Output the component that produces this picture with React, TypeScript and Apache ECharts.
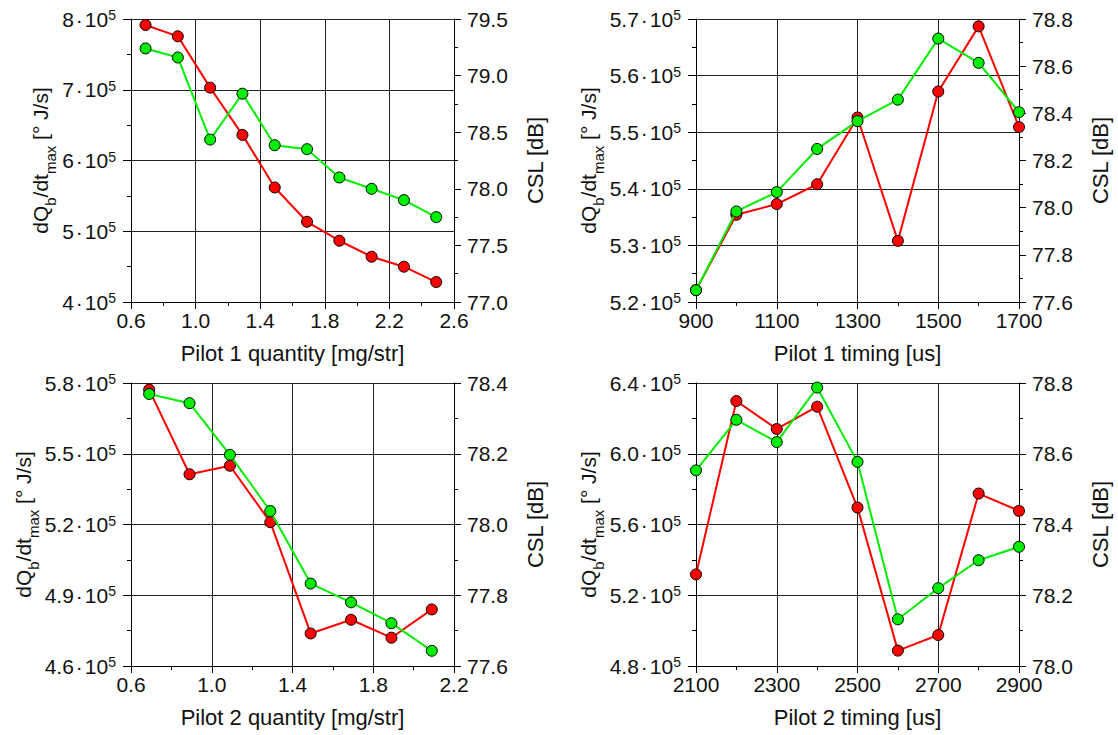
import React, { useEffect, useRef } from 'react';
import * as echarts from 'echarts';

// ---------- Panel 1: Pilot 1 quantity ----------
const p1X = [0.69, 0.89, 1.09, 1.29, 1.49, 1.69, 1.89, 2.09, 2.29, 2.49];
const p1Dq = [791500, 775500, 703000, 636200, 561900, 513400, 486600, 464000, 449900, 428200];
const p1Csl = [79.24, 79.16, 78.435, 78.84, 78.385, 78.35, 78.1, 78.0, 77.9, 77.75];
const p1XTicks = [0.6, 1.0, 1.4, 1.8, 2.2, 2.6];
const p1XMinor = [0.8, 1.2, 1.6, 2.0, 2.4];
const p1LeftTicks = [400000, 500000, 600000, 700000, 800000];
const p1LeftMinor = [450000, 550000, 650000, 750000];
const p1RightTicks = [77.0, 77.5, 78.0, 78.5, 79.0, 79.5];
const p1RightMinor = [77.25, 77.75, 78.25, 78.75, 79.25];

// ---------- Panel 2: Pilot 1 timing ----------
const p2X = [900, 1000, 1100, 1200, 1300, 1400, 1500, 1600, 1700];
const p2Dq = [522100, 535400, 537300, 540800, 552600, 530800, 557200, 568700, 550900];
const p2Csl = [77.65, 77.984, 78.066, 78.249, 78.367, 78.458, 78.717, 78.614, 78.405];
const p2XTicks = [900, 1100, 1300, 1500, 1700];
const p2XMinor = [1000, 1200, 1400, 1600];
const p2LeftTicks = [520000, 530000, 540000, 550000, 560000, 570000];
const p2LeftMinor = [525000, 535000, 545000, 555000, 565000];
const p2RightTicks = [77.6, 77.8, 78.0, 78.2, 78.4, 78.6, 78.8];
const p2RightMinor = [77.7, 77.9, 78.1, 78.3, 78.5, 78.7];

// ---------- Panel 3: Pilot 2 quantity ----------
const p3X = [0.69, 0.89, 1.09, 1.29, 1.49, 1.69, 1.89, 2.09];
const p3Dq = [577200, 541300, 544900, 521000, 473800, 479600, 472000, 484000];
const p3Csl = [78.369, 78.343, 78.197, 78.038, 77.833, 77.78, 77.721, 77.643];
const p3XTicks = [0.6, 1.0, 1.4, 1.8, 2.2];
const p3XMinor = [0.8, 1.2, 1.6, 2.0];
const p3LeftTicks = [460000, 490000, 520000, 550000, 580000];
const p3LeftMinor = [475000, 505000, 535000, 565000];
const p3RightTicks = [77.6, 77.8, 78.0, 78.2, 78.4];
const p3RightMinor = [77.7, 77.9, 78.1, 78.3];

// ---------- Panel 4: Pilot 2 timing ----------
const p4X = [2100, 2200, 2300, 2400, 2500, 2600, 2700, 2800, 2900];
const p4Dq = [531800, 629800, 614000, 626600, 569600, 488700, 497500, 577500, 567700];
const p4Csl = [78.553, 78.696, 78.633, 78.787, 78.577, 78.132, 78.22, 78.299, 78.337];
const p4XTicks = [2100, 2300, 2500, 2700, 2900];
const p4XMinor = [2200, 2400, 2600, 2800];
const p4LeftTicks = [480000, 520000, 560000, 600000, 640000];
const p4LeftMinor = [500000, 540000, 580000, 620000];
const p4RightTicks = [78.0, 78.2, 78.4, 78.6, 78.8];
const p4RightMinor = [78.1, 78.3, 78.5, 78.7];

const xNames = ['Pilot 1 quantity [mg/str]', 'Pilot 1 timing [us]', 'Pilot 2 quantity [mg/str]', 'Pilot 2 timing [us]'];

const FONT = '"Liberation Sans", Arial, Helvetica, sans-serif';
const TXT = '#111';
const RED = '#ff0000';
const GREEN = '#00ee00';

type Panel = {
  grid: { left: number; top: number; width: number; height: number };
  x: number[]; dq: number[]; csl: number[];
  xTicks: number[]; xMinor: number[]; xDec: number;
  lTicks: number[]; lMinor: number[]; lDec: number;
  rTicks: number[]; rMinor: number[];
  name: string;
};

const panels: Panel[] = [
  { grid: { left: 131, top: 19, width: 323, height: 283 }, x: p1X, dq: p1Dq, csl: p1Csl,
    xTicks: p1XTicks, xMinor: p1XMinor, xDec: 1, lTicks: p1LeftTicks, lMinor: p1LeftMinor, lDec: 0,
    rTicks: p1RightTicks, rMinor: p1RightMinor, name: xNames[0] },
  { grid: { left: 696, top: 19, width: 323, height: 283 }, x: p2X, dq: p2Dq, csl: p2Csl,
    xTicks: p2XTicks, xMinor: p2XMinor, xDec: 0, lTicks: p2LeftTicks, lMinor: p2LeftMinor, lDec: 1,
    rTicks: p2RightTicks, rMinor: p2RightMinor, name: xNames[1] },
  { grid: { left: 131, top: 383, width: 323, height: 283 }, x: p3X, dq: p3Dq, csl: p3Csl,
    xTicks: p3XTicks, xMinor: p3XMinor, xDec: 1, lTicks: p3LeftTicks, lMinor: p3LeftMinor, lDec: 1,
    rTicks: p3RightTicks, rMinor: p3RightMinor, name: xNames[2] },
  { grid: { left: 696, top: 383, width: 323, height: 283 }, x: p4X, dq: p4Dq, csl: p4Csl,
    xTicks: p4XTicks, xMinor: p4XMinor, xDec: 0, lTicks: p4LeftTicks, lMinor: p4LeftMinor, lDec: 1,
    rTicks: p4RightTicks, rMinor: p4RightMinor, name: xNames[3] },
];

function buildOption() {
  const grid: any[] = [];
  const xAxis: any[] = [];
  const yAxis: any[] = [];
  const series: any[] = [];
  const axisLine = { show: true, onZero: false, lineStyle: { color: '#000', width: 1 } };
  const split = { show: true, lineStyle: { color: '#222', width: 1 } };

  panels.forEach((p, i) => {
    grid.push({ ...p.grid, containLabel: false });
    const xmin = p.xTicks[0];
    const xmax = p.xTicks[p.xTicks.length - 1];
    const lmin = p.lTicks[0];
    const lmax = p.lTicks[p.lTicks.length - 1];
    const rmin = p.rTicks[0];
    const rmax = p.rTicks[p.rTicks.length - 1];

    // main x axis
    xAxis.push({
      type: 'value', gridIndex: i, position: 'bottom', min: xmin, max: xmax,
      name: p.name, nameLocation: 'middle', nameGap: 40,
      nameTextStyle: { fontSize: 22, color: TXT, fontFamily: FONT },
      axisLine,
      axisTick: { show: true, inside: false, length: 7, customValues: p.xTicks, lineStyle: { color: '#000' } },
      axisLabel: { customValues: p.xTicks, fontSize: 21, color: TXT, fontFamily: FONT, margin: 8,
        formatter: (v: number) => v.toFixed(p.xDec) },
      splitLine: split,
    });
    // minor x ticks
    xAxis.push({
      type: 'value', gridIndex: i, position: 'bottom', min: xmin, max: xmax,
      axisLine: { show: false, onZero: false },
      axisTick: { show: true, inside: false, length: 4, customValues: p.xMinor, lineStyle: { color: '#000' } },
      axisLabel: { show: false }, splitLine: { show: false },
    });

    const leftRich = {
      m: { fontSize: 21, color: TXT, fontFamily: FONT, lineHeight: 22 },
      d: { fontSize: 21, color: TXT, fontFamily: FONT, lineHeight: 22, padding: [0, 2, 0, 2] },
      s: { fontSize: 14, color: TXT, fontFamily: FONT, verticalAlign: 'top', lineHeight: 13 },
    };
    // left main
    yAxis.push({
      type: 'value', gridIndex: i, position: 'left', min: lmin, max: lmax,
      name: '{n|dQ}{sub|b}{n|/dt}{sub|max}{n| [° J/s]}', nameLocation: 'middle', nameGap: 71, nameRotate: 90,
      nameTextStyle: {
        rich: {
          n: { fontSize: 21, color: TXT, fontFamily: FONT, lineHeight: 28, verticalAlign: 'top' },
          sub: { fontSize: 15, color: TXT, fontFamily: FONT, verticalAlign: 'bottom', lineHeight: 15 },
        },
      },
      axisLine,
      axisTick: { show: true, inside: false, length: 8, customValues: p.lTicks, lineStyle: { color: '#000' } },
      axisLabel: { customValues: p.lTicks, margin: 15,
        formatter: (v: number) => `{m|${(v / 100000).toFixed(p.lDec)}}{d|·}{m|10}{s|5}`,
        rich: leftRich },
      splitLine: split,
    });
    // left minor
    yAxis.push({
      type: 'value', gridIndex: i, position: 'left', min: lmin, max: lmax,
      axisLine: { show: false, onZero: false },
      axisTick: { show: true, inside: false, length: 4, customValues: p.lMinor, lineStyle: { color: '#000' } },
      axisLabel: { show: false }, splitLine: { show: false },
    });
    // right main
    yAxis.push({
      type: 'value', gridIndex: i, position: 'right', min: rmin, max: rmax,
      name: 'CSL [dB]', nameLocation: 'middle', nameGap: 70, nameRotate: 90,
      nameTextStyle: { fontSize: 22, color: TXT, fontFamily: FONT },
      axisLine,
      axisTick: { show: true, inside: false, length: 7, customValues: p.rTicks, lineStyle: { color: '#000' } },
      axisLabel: { customValues: p.rTicks, margin: 13, fontSize: 21, color: TXT, fontFamily: FONT,
        formatter: (v: number) => v.toFixed(1) },
      splitLine: { show: false },
    });
    // right minor
    yAxis.push({
      type: 'value', gridIndex: i, position: 'right', min: rmin, max: rmax,
      axisLine: { show: false, onZero: false },
      axisTick: { show: true, inside: false, length: 4, customValues: p.rMinor, lineStyle: { color: '#000' } },
      axisLabel: { show: false }, splitLine: { show: false },
    });

    series.push({
      type: 'line', xAxisIndex: 2 * i, yAxisIndex: 4 * i,
      data: p.x.map((x, k) => [x, p.dq[k]]),
      symbol: 'circle', symbolSize: 11, showSymbol: true,
      lineStyle: { color: RED, width: 2 },
      itemStyle: { color: RED, borderColor: '#000', borderWidth: 1 },
      z: 3,
    });
    series.push({
      type: 'line', xAxisIndex: 2 * i, yAxisIndex: 4 * i + 2,
      data: p.x.map((x, k) => [x, p.csl[k]]),
      symbol: 'circle', symbolSize: 11, showSymbol: true,
      lineStyle: { color: GREEN, width: 2 },
      itemStyle: { color: GREEN, borderColor: '#000', borderWidth: 1 },
      z: 4,
    });
  });

  return {
    animation: false,
    backgroundColor: '#ffffff',
    textStyle: { fontFamily: FONT },
    grid, xAxis, yAxis, series,
  };
}

export default function App() {
  const ref = useRef<HTMLDivElement>(null);
  useEffect(() => {
    if (!ref.current) return;
    const chart = echarts.init(ref.current, undefined, { renderer: 'svg' });
    chart.setOption(buildOption() as any);
    return () => chart.dispose();
  }, []);
  return (
    <div
      ref={ref}
      style={{ position: 'fixed', left: 0, top: 0, width: 1118, height: 735, background: '#fff' }}
    />
  );
}
